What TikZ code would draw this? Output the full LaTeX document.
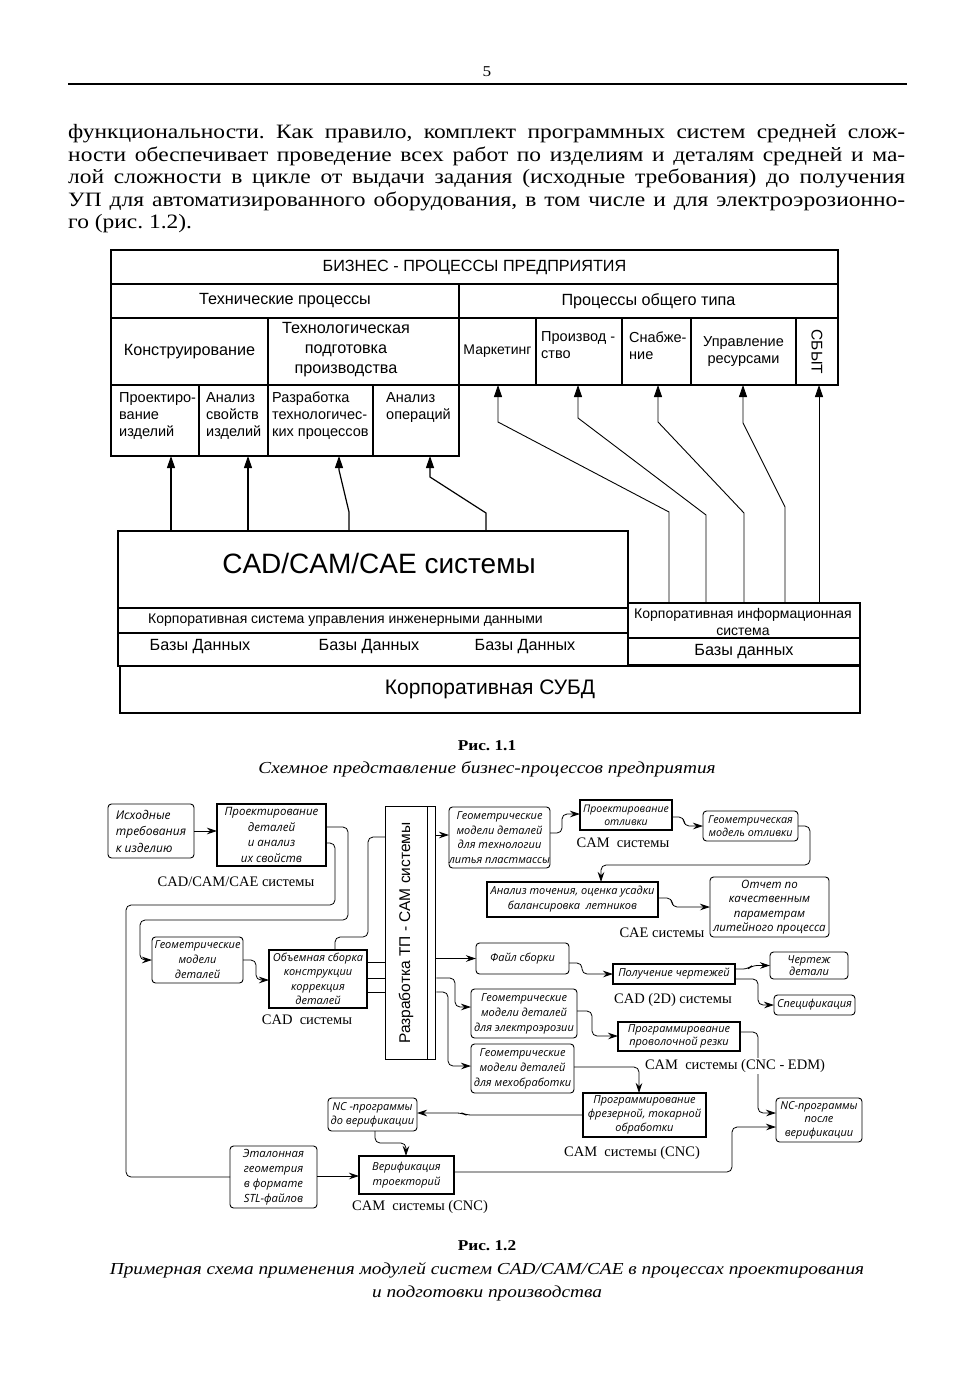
\documentclass[tikz,border=0pt]{standalone}
\usepackage{fontspec}
\setmainfont{Liberation Serif}
\newfontfamily\bodyf[FakeStretch=1.15]{Liberation Serif}
\newfontfamily\arialf{Liberation Sans}
\newfontfamily\osf{Open Sans}
\usetikzlibrary{arrows.meta,calc}
\newcommand\fsz[2]{\fontsize{#1}{#2}\selectfont}
\frenchspacing
\begin{document}
\begin{tikzpicture}[x=1pt,y=-1pt,
  cell/.style={draw,line width=1.1pt,inner sep=0pt,outer sep=0pt,anchor=north west},
  wh/.style 2 args={minimum width=#1pt,minimum height=#2pt},
  sans/.style={font=\arialf\fsz{16.2}{20},inner sep=0pt,align=center},
  small/.style={font=\arialf\fsz{14.5}{17},inner sep=0pt,align=left,anchor=north west},
  arr/.style={line width=1.2pt,-{Triangle[length=12pt,width=8pt]}},
  arrt/.style={line width=0.9pt,-{Triangle[length=12pt,width=8pt]}},
  bodyline/.style={anchor=base west,inner sep=0pt,font=\bodyf\fsz{20.4}{22}},
  rb/.style={draw,rounded corners=3.5pt,line width=0.9pt,inner sep=0pt,outer sep=0pt,anchor=north west,
     font=\osf\itshape\fsz{11}{15},align=center},
  sb/.style={rb,rounded corners=0pt,line width=1.3pt},
  lab/.style={font=\fsz{14.5}{16},inner sep=1pt},
  con/.style={line width=0.8pt,rounded corners=5pt},
  ar/.style={con,-{Stealth[length=10pt,width=6.5pt]}},
  capt/.style={anchor=base,inner sep=0pt,font=\bodyf\itshape\fsz{16.8}{20}}
]
\useasboundingbox (0,0) rectangle (976,1388);
\fill[white] (0,0) rectangle (976,1388);

% ---------- page header and text ----------
\node[anchor=base,inner sep=0pt,font=\bodyf\fsz{15}{18}] (pnum) at (487,77) {5};
\draw[line width=1.3pt] (68,84) coordinate (rl) -- (907,84) coordinate (rr);
\node[bodyline] (b1) at (68,139) {\makebox[837pt][s]{функциональности. Как правило, комплект программных систем средней слож-}};
\node[bodyline] (b2) at (68,161.5) {\makebox[837pt][s]{ности обеспечивает проведение всех работ по изделиям и деталям средней и ма-}};
\node[bodyline] (b3) at (68,184) {\makebox[837pt][s]{лой сложности в цикле от выдачи задания (исходные требования) до получения}};
\node[bodyline] (b4) at (68,206.5) {\makebox[837pt][s]{УП для автоматизированного оборудования, в том числе и для электроэрозионно-}};
\node[bodyline] (b5) at (68,229) {го (рис. 1.2).};

% ---------- Figure 1.1 ----------
\node[cell,wh={727}{34},sans] (biz) at (111,250) {БИЗНЕС - ПРОЦЕССЫ ПРЕДПРИЯТИЯ};
\node[cell,wh={348}{34},sans] (tech) at (111,284) {Технические процессы};
\node[cell,wh={379}{34},sans] (gen) at (459,284) {Процессы общего типа};
\node[cell,wh={157}{67},sans] (konstr) at (111,318) {Конструирование};
\node[cell,wh={191}{67}] (tprep) at (268,318) {};
\node[sans] (ttprep) at (346,350) {Технологическая\\подготовка\\производства};
\node[cell,wh={77}{67},sans,font=\arialf\fsz{14}{17}] (mark) at (459,318) {Маркетинг};
\node[cell,wh={86}{67}] (proizv) at (536,318) {};
\node[small] (tproizv) at (541,331) {Производ -\\ство};
\node[cell,wh={69}{67}] (snab) at (622,318) {};
\node[small] (tsnab) at (629,332) {Снабже-\\ние};
\node[cell,wh={105}{67},sans,font=\arialf\fsz{14.5}{17}] (upr) at (691,318) {Управление\\ресурсами};
\node[cell,wh={42}{67}] (sbyt) at (796,318) {};
\node[sans,rotate=-90,font=\arialf\fsz{15.5}{18}] (tsbyt) at (817,352) {СБЫТ};
\node[cell,wh={88}{71}] (proekt) at (111,385) {};
\node[small] (tproekt) at (119,392) {Проектиро-\\вание\\изделий};
\node[cell,wh={69}{71}] (analiz) at (199,385) {};
\node[small] (tanaliz) at (206,392) {Анализ\\свойств\\изделий};
\node[cell,wh={105}{71}] (razr) at (268,385) {};
\node[small] (trazr) at (272,392) {Разработка\\технологичес-\\ких процессов};
\node[cell,wh={86}{71}] (anop) at (373,385) {};
\node[small] (tanop) at (386,392) {Анализ\\операций};

\node[cell,wh={510}{77}] (cad) at (118,531) {};
\node[sans,font=\arialf\fsz{28}{30}] (tcad) at (379,563) {CAD/CAM/CAE системы};
\node[cell,wh={510}{25}] (ksu) at (118,608) {};
\node[sans,font=\arialf\fsz{14}{16},anchor=west] (tksu) at (148,620) {Корпоративная система управления инженерными данными};
\node[cell,wh={510}{33}] (bd) at (118,633) {};
\node[sans] (tbd1) at (200,647) {Базы Данных};
\node[sans] (tbd2) at (369,647) {Базы Данных};
\node[sans] (tbd3) at (525,647) {Базы Данных};
\node[cell,wh={232}{35}] (kis) at (628,603) {};
\node[sans,font=\arialf\fsz{14}{17}] (tkis) at (743,622) {Корпоративная информационная\\система};
\node[cell,wh={232}{27},sans] (bd2) at (628,638) {Базы данных};
\node[cell,wh={740}{47},sans,font=\arialf\fsz{21}{24}] (subd) at (120,666) {Корпоративная СУБД};

% arrows left
\coordinate (p1) at (171,531);
\coordinate (p2) at (248,531);
\coordinate (p3) at (349,531);
\coordinate (p4) at (486,531);
\draw[arr] (p1) -- (p1 |- proekt.south);
\draw[arr] (p2) -- (p2 |- analiz.south);
\draw[arr] (p3) -- ++(0,-19) -- ($(razr.south west)+(71,14)$) -- ($(razr.south west)+(71,0)$);
\draw[arr] (p4) -- ++(0,-18) -- ($(anop.south west)+(57,21)$) -- ($(anop.south west)+(57,0)$);
% arrows right
\coordinate (q1) at (669,603);
\coordinate (q2) at (706,603);
\coordinate (q3) at (744,603);
\coordinate (q4) at (785,603);
\coordinate (q5) at (819,603);
\draw[arrt] (q1) -- (669,512) -- ($(mark.south west)+(39,37)$) -- ($(mark.south west)+(39,0)$);
\draw[arrt] (q2) -- (706,515) -- ($(proizv.south west)+(42,33)$) -- ($(proizv.south west)+(42,0)$);
\draw[arrt] (q3) -- (744,513) -- ($(snab.south west)+(36,37)$) -- ($(snab.south west)+(36,0)$);
\draw[arrt] (q4) -- (785,507) -- ($(upr.south west)+(52,38)$) -- ($(upr.south west)+(52,0)$);
\draw[arrt] (q5) -- (q5 |- sbyt.south);

\node[anchor=base,inner sep=0pt,font=\bodyf\bfseries\fsz{15}{18}] (cap1) at (487,750) {Рис. 1.1};
\node[capt] (cap1b) at (487,773) {Схемное представление бизнес-процессов предприятия};

% ---------- Figure 1.2 ----------
\node[rb,wh={86}{54},align=left,font=\osf\itshape\fsz{12}{16.5}] (ishod) at (108,804) {Исходные\\требования\\к изделию};
\node[sb,wh={109}{62},font=\osf\itshape\fsz{11.5}{15.5}] (proj) at (217,804) {Проектирование\\деталей\\и анализ\\их свойств};
\node[rb,wh={91}{46}] (geom) at (152,937) {Геометрические\\модели\\деталей};
\node[sb,wh={98}{58},font=\osf\itshape\fsz{11}{14.5}] (obem) at (269,950) {Объемная сборка\\конструкции\\коррекция\\деталей};
\node[draw,line width=1.3pt,anchor=north west,inner sep=0pt,wh={50}{253}] (central) at (385,806) {};
\draw[line width=1.1pt] ($(central.north east)+(-9,0)$) coordinate (ci1) -- ($(central.south east)+(-9,0)$) coordinate (ci2);
\node[sans,rotate=90,font=\arialf\fsz{15.5}{18}] (tcentral) at (406,933) {Разработка ТП - САМ системы};
\node[rb,wh={101}{61},font=\osf\itshape\fsz{11}{14.5}] (lit) at (449,807) {Геометрические\\модели деталей\\для технологии\\литья пластмассы};
\node[sb,wh={92}{30},font=\osf\itshape\fsz{10.5}{13}] (otl) at (580,800) {Проектирование\\отливки};
\node[rb,wh={95}{30},font=\osf\itshape\fsz{10.8}{13}] (gmo) at (703,811) {Геометрическая\\модель отливки};
\node[sb,wh={171}{35}] (anal) at (487,882) {Анализ точения, оценка усадки\\балансировка\ \ летников};
\node[rb,wh={119}{60},font=\osf\itshape\fsz{11.5}{14.5}] (otch) at (710,877) {Отчет по\\качественным\\параметрам\\литейного процесса};
\node[rb,wh={93}{31}] (fajl) at (476,943) {Файл сборки};
\node[sb,wh={122}{20}] (polu) at (613,964) {Получение чертежей};
\node[rb,wh={78}{27},font=\osf\itshape\fsz{11}{12.5}] (chert) at (770,952) {Чертеж\\детали};
\node[rb,wh={81}{20}] (spec) at (774,995) {Спецификация};
\node[rb,wh={106}{49}] (elek) at (471,989) {Геометрические\\модели деталей\\для электроэрозии};
\node[rb,wh={103}{49}] (mech) at (471,1044) {Геометрические\\модели деталей\\для мехобработки};
\node[sb,wh={122}{29},font=\osf\itshape\fsz{11}{13.5}] (prov) at (618,1022) {Программирование\\проволочной резки};
\node[rb,wh={86}{44},font=\osf\itshape\fsz{11}{13.5}] (nc2) at (776,1098) {NC-программы\\после\\верификации};
\node[sb,wh={123}{44},font=\osf\itshape\fsz{11}{14}] (frez) at (583,1093) {Программирование\\фрезерной, токарной\\обработки};
\node[rb,wh={89}{33},font=\osf\itshape\fsz{11}{14}] (nc1) at (328,1098) {NC -программы\\до верификации};
\node[sb,wh={95}{38},font=\osf\itshape\fsz{11}{15}] (verif) at (359,1156) {Верификация\\троекторий};
\node[rb,wh={87}{62},font=\osf\itshape\fsz{11.3}{15}] (etal) at (230,1146) {Эталонная\\геометрия\\в формате\\STL-файлов};

% connectors
\draw[ar] (ishod.east) -- (ishod.east -| proj.west);
\draw[ar] ([yshift=-23pt]proj.north east) -- (348,827) -- (348,920) -- (140,920) -- (140,960) -- (geom.west);
\draw[con] ([yshift=-39pt]proj.north east) -- (335,843) -- (335,905) -- (126,905) -- (126,1177) -- (etal.west);
\draw[ar] (geom.east) -- (256,960) -- (256,980) -- ([yshift=-30pt]obem.north west);
\draw[con] ([xshift=66pt]obem.north west) -- (335,937) -- (368,937) -- (368,837) -- ([yshift=-31pt]central.north west);
\coordinate (o1) at ([yshift=-12pt]obem.north east);
\coordinate (o2) at ([yshift=-28pt]obem.north east);
\coordinate (o3) at ([yshift=-42pt]obem.north east);
\draw[con] (o1) -- (o1 -| central.west);
\draw[con] (o2) -- (o2 -| central.west);
\draw[con] (o3) -- (o3 -| central.west);
\draw[ar] (central.east |- fajl.west) -- (fajl.west);
\draw[ar] (central.east |- o2) -- (455,978) -- (455,1007) -- ([yshift=-18pt]elek.north west);
\draw[ar] (central.east |- o3) -- (448,992) -- (448,1066) -- ([yshift=-22pt]mech.north west);
\draw[ar] ([yshift=-29pt]central.north east) -- ([yshift=-28pt]lit.north west);
\draw[ar] ([yshift=-26pt]lit.north east) -- (562,833) -- (562,814) -- ([yshift=-14pt]otl.north west);
\draw[ar] ([yshift=-17pt]otl.north east) -- (684,817) -- (684,826) -- (gmo.west);
\draw[ar] (gmo.east) -- (810,826) -- (810,865) -- (601,865) -- ([xshift=114pt]anal.north west);
\draw[ar] ([yshift=-16pt]anal.north east) -- (672,898) -- (672,907) -- (otch.west);
\draw[ar] ([yshift=-20pt]fajl.north east) -- (582,963) -- (582,974) -- (polu.west);
\draw[ar] ([yshift=-5pt]polu.north east) -- (748,969) -- (752,965.5) -- (chert.west);
\draw[ar] ([yshift=-15pt]polu.north east) -- (758,979) -- (758,1005) -- (spec.west);
\draw[ar] ([yshift=-22pt]elek.north east) -- (592,1011) -- (592,1036) -- ([yshift=-14pt]prov.north west);
\draw[ar] ([yshift=-10pt]prov.north east) -- (758,1032) -- (758,1113) -- ([yshift=-15pt]nc2.north west);
\draw[ar] ([yshift=-23pt]mech.north east) -- (639,1067) -- ([xshift=56pt]frez.north west);
\draw[ar] ([yshift=-22pt]frez.north west) -- (466,1115) -- (462,1113) -- ([yshift=-15pt]nc1.north east);
\draw[ar] ([xshift=47pt]nc1.south west) -- (375,1143) -- (406,1143) -- ([xshift=47pt]verif.north west);
\draw[ar] ([yshift=-30pt]etal.north east) -- ([yshift=-20pt]verif.north west);
\draw[ar] ([yshift=-16pt]verif.north east) -- (732,1172) -- (732,1127) -- ([yshift=-29pt]nc2.north west);

% labels
\node[lab] (l1) at (236,882) {CAD/CAM/CAE системы};
\node[lab] (l2) at (307,1020) {CAD\ \ системы};
\node[lab] (l3) at (623,843) {CAM\ \ системы};
\node[lab] (l4) at (662,933) {CAE системы};
\node[lab] (l5) at (673,1000) {CAD (2D) системы};
\node[lab,fill=white] (l6) at (735,1066) {CAM\ \ системы (CNC - EDM)};
\node[lab] (l7) at (632,1153) {CAM\ \ системы (CNC)};
\node[lab] (l8) at (420,1207) {CAM\ \ системы (CNC)};

\node[anchor=base,inner sep=0pt,font=\bodyf\bfseries\fsz{15}{18}] (cap2) at (487,1250) {Рис. 1.2};
\node[capt] (cap2b) at (487,1274) {Примерная схема применения модулей систем CAD/CAM/CAE в процессах проектирования};
\node[capt] (cap2c) at (487,1297) {и подготовки производства};
\end{tikzpicture}
\end{document}
